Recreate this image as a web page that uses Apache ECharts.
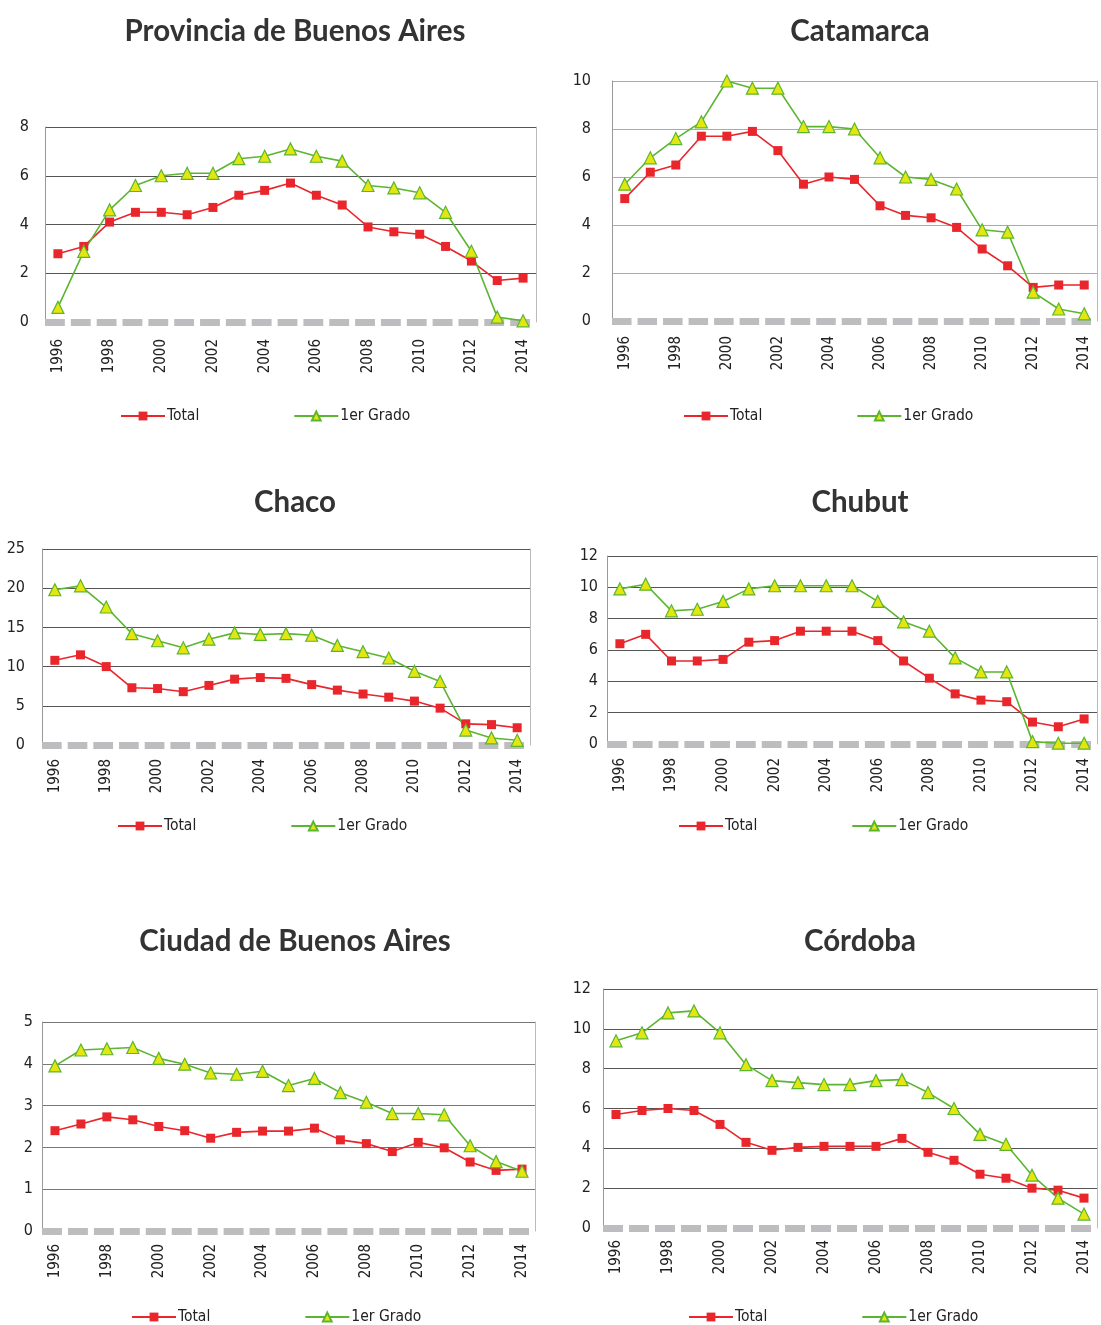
<!DOCTYPE html>
<html>
<head>
<meta charset="utf-8">
<script src="https://cdn.jsdelivr.net/npm/echarts@6/dist/echarts.min.js"></script>
<style>
  html, body { margin: 0; padding: 0; background: #fff; }
  #chart { width: 1101px; height: 1325px; }
</style>
</head>
<body>
<div id="chart"></div>
<script>
  // categories
  const years = ['1996', '1997', '1998', '1999', '2000', '2001', '2002', '2003', '2004', '2005',
    '2006', '2007', '2008', '2009', '2010', '2011', '2012', '2013', '2014']

  // values
  const provBsAsTotal = [2.8, 3.1, 4.1, 4.5, 4.5, 4.4, 4.7, 5.2, 5.4, 5.7, 5.2, 4.8, 3.9, 3.7, 3.6, 3.1, 2.5, 1.7, 1.8]
  const provBsAsGrado = [0.6, 2.9, 4.6, 5.6, 6.0, 6.1, 6.1, 6.7, 6.8, 7.1, 6.8, 6.6, 5.6, 5.5, 5.3, 4.5, 2.9, 0.2, 0.05]
  const catamarcaTotal = [5.1, 6.2, 6.5, 7.7, 7.7, 7.9, 7.1, 5.7, 6.0, 5.9, 4.8, 4.4, 4.3, 3.9, 3.0, 2.3, 1.4, 1.5, 1.5]
  const catamarcaGrado = [5.7, 6.8, 7.6, 8.3, 10.0, 9.7, 9.7, 8.1, 8.1, 8.0, 6.8, 6.0, 5.9, 5.5, 3.8, 3.7, 1.2, 0.5, 0.3]
  const chacoTotal = [10.8, 11.5, 10.0, 7.3, 7.2, 6.8, 7.6, 8.4, 8.6, 8.5, 7.7, 7.0, 6.5, 6.1, 5.6, 4.7, 2.7, 2.6, 2.2]
  const chacoGrado = [19.8, 20.3, 17.6, 14.2, 13.3, 12.4, 13.5, 14.3, 14.1, 14.2, 14.0, 12.7, 11.9, 11.1, 9.4, 8.1, 1.9, 0.9, 0.6]
  const chubutTotal = [6.4, 7.0, 5.3, 5.3, 5.4, 6.5, 6.6, 7.2, 7.2, 7.2, 6.6, 5.3, 4.2, 3.2, 2.8, 2.7, 1.4, 1.1, 1.6]
  const chubutGrado = [9.9, 10.2, 8.5, 8.6, 9.1, 9.9, 10.1, 10.1, 10.1, 10.1, 9.1, 7.8, 7.2, 5.5, 4.6, 4.6, 0.15, 0.05, 0.05]
  const cabaTotal = [2.4, 2.56, 2.73, 2.66, 2.5, 2.4, 2.22, 2.36, 2.39, 2.39, 2.46, 2.18, 2.09, 1.9, 2.12, 1.99, 1.65, 1.45, 1.48]
  const cabaGrado = [3.95, 4.33, 4.36, 4.39, 4.13, 3.99, 3.78, 3.75, 3.82, 3.48, 3.65, 3.31, 3.08, 2.81, 2.81, 2.78, 2.04, 1.66, 1.43]
  const cordobaTotal = [5.7, 5.9, 6.0, 5.9, 5.2, 4.3, 3.9, 4.05, 4.1, 4.1, 4.1, 4.5, 3.8, 3.4, 2.7, 2.5, 2.0, 1.9, 1.5]
  const cordobaGrado = [9.4, 9.8, 10.8, 10.9, 9.8, 8.2, 7.4, 7.3, 7.2, 7.2, 7.4, 7.45, 6.8, 6.0, 4.7, 4.2, 2.65, 1.5, 0.7]

  const titles = ['Provincia de Buenos Aires', 'Catamarca', 'Chaco', 'Chubut', 'Ciudad de Buenos Aires', 'Córdoba']
  const totals = [provBsAsTotal, catamarcaTotal, chacoTotal, chubutTotal, cabaTotal, cordobaTotal]
  const grados = [provBsAsGrado, catamarcaGrado, chacoGrado, chubutGrado, cabaGrado, cordobaGrado]
  const yMax = [8, 10, 25, 12, 5, 12]
  const yStep = [2, 2, 5, 2, 1, 2]

  // panel layout (pixels)
  const panels = [
    { left: 45, top: 127, right: 536, bottom: 322, cx: 295, ty: 31, lx: 120, ly: 416, ym: 16, xm: 17, grid: '#555' },
    { left: 612, top: 81, right: 1097, bottom: 321, cx: 860, ty: 31, lx: 683, ly: 416, ym: 21, xm: 15, grid: '#aaa' },
    { left: 42, top: 549, right: 530, bottom: 745, cx: 295, ty: 502, lx: 117, ly: 826, ym: 17, xm: 14, grid: '#555' },
    { left: 607, top: 556, right: 1097, bottom: 744, cx: 860, ty: 502, lx: 678, ly: 826, ym: 9, xm: 14, grid: '#555' },
    { left: 42, top: 1022, right: 535, bottom: 1231, cx: 295, ty: 941, lx: 131, ly: 1317, ym: 9, xm: 13, grid: '#777' },
    { left: 603, top: 989, right: 1097, bottom: 1228, cx: 860, ty: 941, lx: 688, ly: 1317, ym: 12, xm: 12, grid: '#555' }
  ]

  const narrow = "'Liberation Sans Narrow', 'DejaVu Sans Condensed', sans-serif"
  const red = '#e8262b'
  const green = '#5cb531'

  let option = {
    animation: false,
    title: [], grid: [], xAxis: [], yAxis: [], legend: [], series: []
  }

  panels.forEach((p, i) => {
    const catW = (p.right - p.left) / years.length
    option.title.push({
      text: titles[i],
      left: p.cx,
      top: p.ty - 15,
      textAlign: 'center',
      padding: 0,
      textStyle: { fontFamily: 'Lato', fontWeight: 'bold', fontSize: 29.5, color: '#333' }
    })
    option.grid.push({
      left: p.left, top: p.top,
      width: p.right - p.left, height: p.bottom - p.top
    })
    option.xAxis.push({
      gridIndex: i,
      type: 'category',
      boundaryGap: true,
      data: years,
      axisTick: { show: false },
      axisLine: { lineStyle: { color: '#bdbdbf', width: 7, cap: 'butt', type: [catW - 6, 6] } },
      axisLabel: {
        interval: 1, rotate: 90, margin: p.xm,
        fontFamily: narrow, fontSize: 15, color: '#222'
      }
    })
    option.yAxis.push({
      gridIndex: i,
      type: 'value',
      min: 0, max: yMax[i], interval: yStep[i],
      axisLine: { show: true, lineStyle: { color: '#999', width: 1 } },
      axisTick: { show: false },
      splitLine: { showMinLine: false, lineStyle: { color: p.grid, width: 1 } },
      axisLabel: { margin: p.ym, fontFamily: narrow, fontSize: 16, color: '#222' }
    })
    option.yAxis.push({
      gridIndex: i,
      type: 'value',
      position: 'right',
      min: 0, max: yMax[i], interval: yStep[i],
      axisLine: { show: true, lineStyle: { color: '#bbb', width: 1 } },
      axisTick: { show: false },
      axisLabel: { show: false },
      splitLine: { show: false }
    })
    option.legend.push({
      left: p.lx, top: p.ly - 8,
      padding: 0,
      itemWidth: 44, itemHeight: 11, itemGap: 94,
      selectedMode: false,
      data: ['Total', '1er Grado'],
      textStyle: { fontFamily: narrow, fontSize: 15.5, color: '#222', padding: [0, 0, 0, -3] }
    })
    option.series.push({
      name: 'Total',
      type: 'line',
      xAxisIndex: i, yAxisIndex: i * 2,
      data: totals[i],
      symbol: 'rect', symbolSize: 9,
      itemStyle: { color: red },
      lineStyle: { color: red, width: 1.6 }
    })
    option.series.push({
      name: '1er Grado',
      type: 'line',
      xAxisIndex: i, yAxisIndex: i * 2,
      data: grados[i],
      symbol: 'triangle', symbolSize: 12,
      itemStyle: { color: '#e4e60f', borderColor: green, borderWidth: 1.2 },
      lineStyle: { color: green, width: 1.6 }
    })
  })

  const myChart = echarts.init(document.getElementById('chart'))
  myChart.setOption(option)
</script>
</body>
</html>
